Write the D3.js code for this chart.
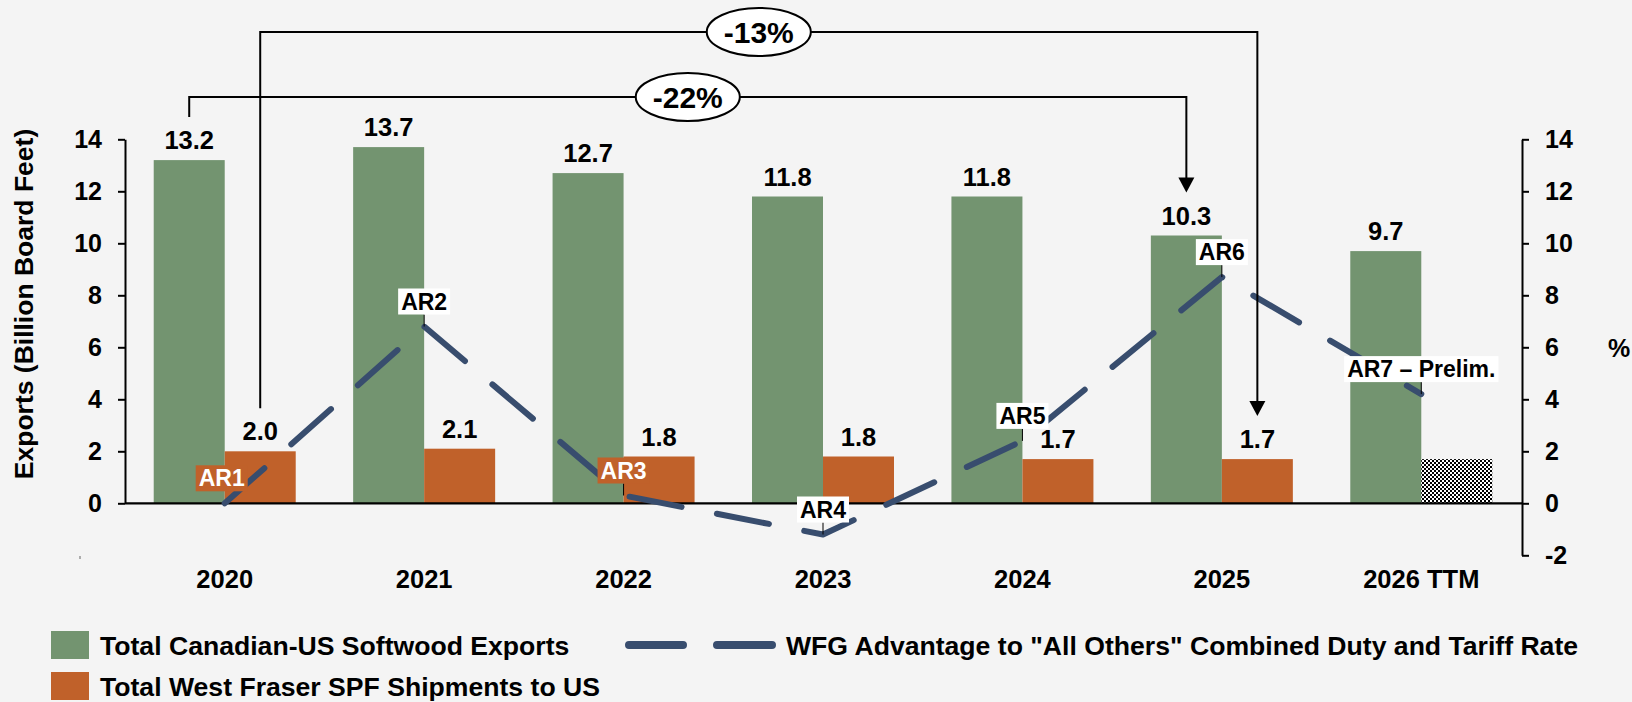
<!DOCTYPE html>
<html>
<head>
<meta charset="utf-8">
<script src="https://cdn.jsdelivr.net/npm/d3@7"></script>
<style>
  html, body { margin: 0; padding: 0; background: #f4f4f4; }
  svg { display: block; font-family: "Liberation Sans", Arial, sans-serif; font-weight: bold; }
</style>
</head>
<body>
<div id="chart"></div>
<script>
// Chart data
const years = ["2020", "2021", "2022", "2023", "2024", "2025", "2026 TTM"];
const canadianExports = [13.2, 13.7, 12.7, 11.8, 11.8, 10.3, 9.7];      // billion board feet
const westFraserShipments = [2.0, 2.1, 1.8, 1.8, 1.7, 1.7, 1.7];       // last one is preliminary (hatched)
const wfgAdvantage = [0.0, 6.8, 0.3, -1.2, 2.4, 8.7, 4.2];             // %, right axis
const arLabels = ["AR1", "AR2", "AR3", "AR4", "AR5", "AR6", "AR7 \u2013 Prelim."];
const leftTicks = [0, 2, 4, 6, 8, 10, 12, 14];
const rightTicks = [-2, 0, 2, 4, 6, 8, 10, 12, 14];
const changeLabels = ["-22%", "-13%"];
const legendLabels = [
    "Total Canadian-US Softwood Exports",
    "WFG Advantage to \"All Others\" Combined Duty and Tariff Rate",
    "Total West Fraser SPF Shipments to US"
];

const GREEN = "#739470";
const ORANGE = "#c0612a";
const NAVY = "#384d6e";

const width = 1632;
const height = 702;

const svg = d3.select("#chart").append("svg")
    .attr("width", width)
    .attr("height", height);

svg.append("rect").attr("width", width).attr("height", height).attr("fill", "#f4f4f4");

// checkerboard for the preliminary bar
const pat = svg.append("defs").append("pattern")
    .attr("id", "checker")
    .attr("patternUnits", "userSpaceOnUse")
    .attr("width", 4).attr("height", 4);
pat.append("rect").attr("width", 4).attr("height", 4).attr("fill", "#fff");
pat.append("rect").attr("width", 2).attr("height", 2).attr("fill", "#000");
pat.append("rect").attr("x", 2).attr("y", 2).attr("width", 2).attr("height", 2).attr("fill", "#000");

// Scales
const x = d3.scaleBand().domain(years).range([125, 1521]);
const yL = d3.scaleLinear().domain([0, 14]).range([503.3, 139.3]);
const yR = d3.scaleLinear().domain([-2, 14]).range([555.3, 139.3]);
const barW = 71;
const mid = d => x(d) + x.bandwidth() / 2;

// Bars
svg.append("g").selectAll("rect")
    .data(canadianExports)
    .enter().append("rect")
    .attr("x", (d, i) => mid(years[i]) - barW)
    .attr("y", d => yL(d))
    .attr("width", barW)
    .attr("height", d => yL(0) - yL(d))
    .attr("fill", GREEN);

svg.append("g").selectAll("rect")
    .data(westFraserShipments)
    .enter().append("rect")
    .attr("x", (d, i) => mid(years[i]))
    .attr("y", d => yL(d))
    .attr("width", barW)
    .attr("height", d => yL(0) - yL(d))
    .attr("fill", (d, i) => i === years.length - 1 ? "url(#checker)" : ORANGE);

// Axes
function styleAxis(g) {
    g.attr("font-family", null).attr("font-size", null);
    g.selectAll("path, line").attr("stroke", "#000").attr("stroke-width", 2);
    g.selectAll("text").attr("fill", "#000").style("font-size", "25px");
}

svg.append("g")
    .attr("transform", "translate(125,0)")
    .call(d3.axisLeft(yL).tickValues(leftTicks).tickFormat(d => String(d))
        .tickSize(7).tickSizeOuter(0).tickPadding(16))
    .call(styleAxis);

svg.append("g")
    .attr("transform", "translate(1522,0)")
    .call(d3.axisRight(yR).tickValues(rightTicks).tickFormat(d => String(d))
        .tickSize(7).tickSizeOuter(0).tickPadding(16))
    .call(styleAxis);

// baseline at zero
svg.append("line")
    .attr("x1", 125).attr("x2", 1522)
    .attr("y1", yL(0)).attr("y2", yL(0))
    .attr("stroke", "#000").attr("stroke-width", 2.2);

// small stray mark near the bottom-left
svg.append("line")
    .attr("x1", 80).attr("x2", 80).attr("y1", 556).attr("y2", 559)
    .attr("stroke", "#666").attr("stroke-width", 1);

// Axis titles
svg.append("text")
    .attr("transform", "translate(33,304) rotate(-90)")
    .attr("text-anchor", "middle")
    .style("font-size", "26.5px")
    .text("Exports (Billion Board Feet)");

svg.append("text")
    .attr("x", 1619).attr("y", 348).attr("dy", "0.35em")
    .attr("text-anchor", "middle")
    .style("font-size", "25px")
    .text("%");

// Category labels
svg.append("g").selectAll("text")
    .data(years)
    .enter().append("text")
    .attr("x", d => mid(d))
    .attr("y", 588)
    .attr("text-anchor", "middle")
    .style("font-size", "25.5px")
    .text(d => d);

// Dashed advantage line
const line = d3.line()
    .x((d, i) => mid(years[i]))
    .y(d => yR(d));

svg.append("path")
    .datum(wfgAdvantage)
    .attr("d", line)
    .attr("fill", "none")
    .attr("stroke", NAVY)
    .attr("stroke-width", 6)
    .attr("stroke-linecap", "round")
    .attr("stroke-linejoin", "round")
    .attr("stroke-dasharray", "53,36");

// AR labels with leaders
const arG = svg.append("g");
wfgAdvantage.forEach((v, i) => {
    const px = mid(years[i]);
    const py = yR(v);
    const boxBottom = py - 12;
    const onBar = i === 0 || i === 2; // these sit on the orange bars
    const cx = px - (i === 0 ? 3 : 0);
    if (i !== 0) {
        arG.append("line")
            .attr("x1", px).attr("x2", px)
            .attr("y1", boxBottom).attr("y2", py)
            .attr("stroke", "#000").attr("stroke-width", 1);
    }
    const grp = arG.append("g");
    const box = grp.append("rect").attr("fill", onBar ? ORANGE : "#fff");
    const t = grp.append("text")
        .attr("x", cx)
        .attr("y", boxBottom - 5)
        .attr("text-anchor", "middle")
        .style("font-size", "23px")
        .attr("fill", onBar ? "#fff" : "#000")
        .text(arLabels[i]);
    const tw = t.node().getComputedTextLength();
    box.attr("x", cx - tw / 2 - 3)
        .attr("y", boxBottom - 26)
        .attr("width", tw + 6)
        .attr("height", 26);
});

// Value labels
svg.append("g").selectAll("text")
    .data(canadianExports)
    .enter().append("text")
    .attr("x", (d, i) => mid(years[i]) - barW / 2)
    .attr("y", d => yL(d) - 11)
    .attr("text-anchor", "middle")
    .style("font-size", "25.5px")
    .text(d => d.toFixed(1));

svg.append("g").selectAll("text")
    .data(westFraserShipments.slice(0, years.length - 1)) // preliminary bar has no label
    .enter().append("text")
    .attr("x", (d, i) => mid(years[i]) + barW / 2)
    .attr("y", d => yL(d) - 11)
    .attr("text-anchor", "middle")
    .style("font-size", "25.5px")
    .text(d => d.toFixed(1));

// Change brackets (2020 -> 2025)
function bracket(x1, x2, y1, tip, level, label) {
    const g = svg.append("g");
    g.append("path")
        .attr("d", `M${x1},${y1}V${level}H${x2}V${tip - 14}`)
        .attr("fill", "none")
        .attr("stroke", "#000")
        .attr("stroke-width", 2);
    g.append("path")
        .attr("d", `M${x2 - 8},${tip - 15}L${x2 + 8},${tip - 15}L${x2},${tip}Z`)
        .attr("fill", "#000");
    const cx = (x1 + x2) / 2;
    const el = g.append("ellipse")
        .attr("cx", cx).attr("cy", level)
        .attr("ry", 24)
        .attr("fill", "#fff")
        .attr("stroke", "#000")
        .attr("stroke-width", 2);
    const t = g.append("text")
        .attr("x", cx).attr("y", level).attr("dy", "0.36em")
        .attr("text-anchor", "middle")
        .style("font-size", "30px")
        .text(label);
    el.attr("rx", t.node().getComputedTextLength() / 2 + 17);
}

const i0 = 0, i1 = 5;
bracket(mid(years[i0]) - barW / 2, mid(years[i1]) - barW / 2,
    yL(canadianExports[i0]) - 43, yL(canadianExports[i1]) - 43, 97, changeLabels[0]);
bracket(mid(years[i0]) + barW / 2, mid(years[i1]) + barW / 2,
    yL(westFraserShipments[i0]) - 43, yL(westFraserShipments[i1]) - 43, 32, changeLabels[1]);

// Legend
const lg = svg.append("g").style("font-size", "26.6px");
lg.append("rect").attr("x", 51).attr("y", 631).attr("width", 38).attr("height", 28).attr("fill", GREEN);
lg.append("text").attr("x", 100).attr("y", 655).text(legendLabels[0]);
lg.append("rect").attr("x", 51).attr("y", 672).attr("width", 38).attr("height", 28).attr("fill", ORANGE);
lg.append("text").attr("x", 100).attr("y", 696).text(legendLabels[2]);
lg.append("path")
    .attr("d", "M629,645H683M717,645H772")
    .attr("stroke", NAVY)
    .attr("stroke-width", 8)
    .attr("stroke-linecap", "round");
lg.append("text").attr("x", 786).attr("y", 655).text(legendLabels[1]);
</script>
</body>
</html>
